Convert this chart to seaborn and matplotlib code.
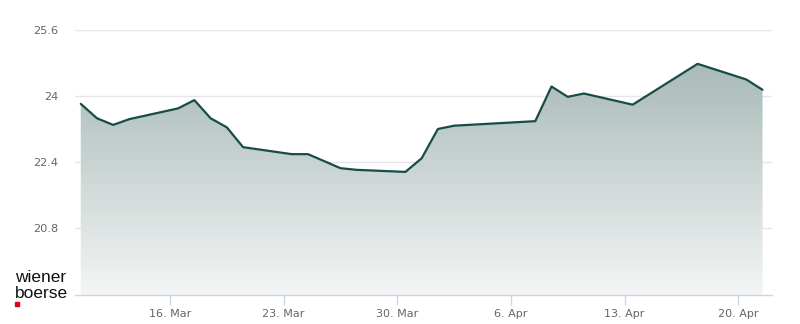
import numpy as np
import pandas as pd
import matplotlib
matplotlib.use("Agg")
import matplotlib.pyplot as plt
import matplotlib.dates as mdates
from matplotlib.ticker import FixedLocator, FuncFormatter
from matplotlib.patches import Rectangle
import seaborn as sns

# ---- data ----
dates = ["2026-03-10", "2026-03-11", "2026-03-12", "2026-03-13", "2026-03-16",
         "2026-03-17", "2026-03-18", "2026-03-19", "2026-03-20", "2026-03-23",
         "2026-03-24", "2026-03-26", "2026-03-27", "2026-03-30", "2026-03-31",
         "2026-04-01", "2026-04-02", "2026-04-07", "2026-04-08", "2026-04-09",
         "2026-04-10", "2026-04-13", "2026-04-17", "2026-04-20", "2026-04-21"]
prices = [23.81, 23.46, 23.30, 23.44, 23.70,
          23.90, 23.46, 23.24, 22.76, 22.59,
          22.59, 22.25, 22.21, 22.16, 22.49,
          23.20, 23.28, 23.39, 24.23, 23.98,
          24.06, 23.79, 24.78, 24.40, 24.15]
y_ticks = [20.8, 22.4, 24, 25.6]
y_tick_labels = ["20.8", "22.4", "24", "25.6"]

df = pd.DataFrame({"date": pd.to_datetime(dates) + pd.Timedelta(hours=12),
                   "price": prices})

sns.set_theme(style="white")
plt.rcParams["font.family"] = ["DejaVu Sans"]

W, H = 800, 324
fig = plt.figure(figsize=(W / 100, H / 100), dpi=100)
ax = fig.add_axes([75 / W, (H - 295) / H, (772 - 75) / W, (295 - 30) / H])

line_color = "#184c47"
ymin, ymax = 19.176, 25.6
xmin = pd.Timestamp("2026-03-10 03:30")
xmax = pd.Timestamp("2026-04-22 02:00")

# gridlines
for yt in y_ticks:
    ax.axhline(yt, color="#e6e6e6", lw=1, zorder=0)

# gradient fill clipped by area under the line
poly = ax.fill_between(df["date"], df["price"], ymin, color="none", lw=0)
grad_n = 256
t = np.linspace(0, 1, grad_n)[:, None]  # 0 at top, 1 at bottom
alpha = 0.42 + (0.05 - 0.42) * t
lc = np.array(matplotlib.colors.to_rgb("#17463f"))
rgb = (1 - alpha)[..., None] * np.ones(3) + alpha[..., None] * lc
img = np.repeat(rgb, 2, axis=1)
im = ax.imshow(img, aspect="auto", origin="upper",
               extent=[mdates.date2num(xmin), mdates.date2num(xmax), ymin, ymax],
               zorder=1)
path = poly.get_paths()[0]
im.set_clip_path(path, transform=ax.transData)

sns.lineplot(data=df, x="date", y="price", ax=ax, color=line_color,
             lw=1.6, zorder=3)

ax.set_xlim(xmin, xmax)
ax.set_ylim(ymin, ymax)
ax.set_xlabel("")
ax.set_ylabel("")

ax.xaxis.set_major_locator(mdates.WeekdayLocator(byweekday=mdates.MO))
ax.xaxis.set_major_formatter(FuncFormatter(
    lambda v, p: f"{mdates.num2date(v).day}. {mdates.num2date(v).strftime('%b')}"))
ax.yaxis.set_major_locator(FixedLocator(y_ticks))
ax.set_yticklabels(y_tick_labels)

for s in ["top", "right", "left"]:
    ax.spines[s].set_visible(False)
ax.spines["bottom"].set_color("#ccd6eb")
ax.spines["bottom"].set_linewidth(1)

ax.tick_params(axis="x", length=7, width=1, color="#ccd6eb", pad=3,
               labelsize=8, labelcolor="#666666", bottom=True)
ax.tick_params(axis="y", length=0, pad=12, labelsize=8.2, labelcolor="#666666")

# logo
logo_font = ["Liberation Sans", "DejaVu Sans"]
fig.text(15 / W, 1 - 282 / H, "wiener", fontsize=12.5, color="#111111",
         family=logo_font, ha="left", va="baseline")
fig.text(15 / W, 1 - 297.5 / H, "boerse", fontsize=12.5, color="#111111",
         family=logo_font, ha="left", va="baseline")
fig.patches.append(Rectangle((15 / W, 1 - 306 / H), 4 / W, 4 / H,
                             transform=fig.transFigure, color="#e2001a",
                             figure=fig))

fig.savefig("out.png", dpi=100, facecolor="white")
